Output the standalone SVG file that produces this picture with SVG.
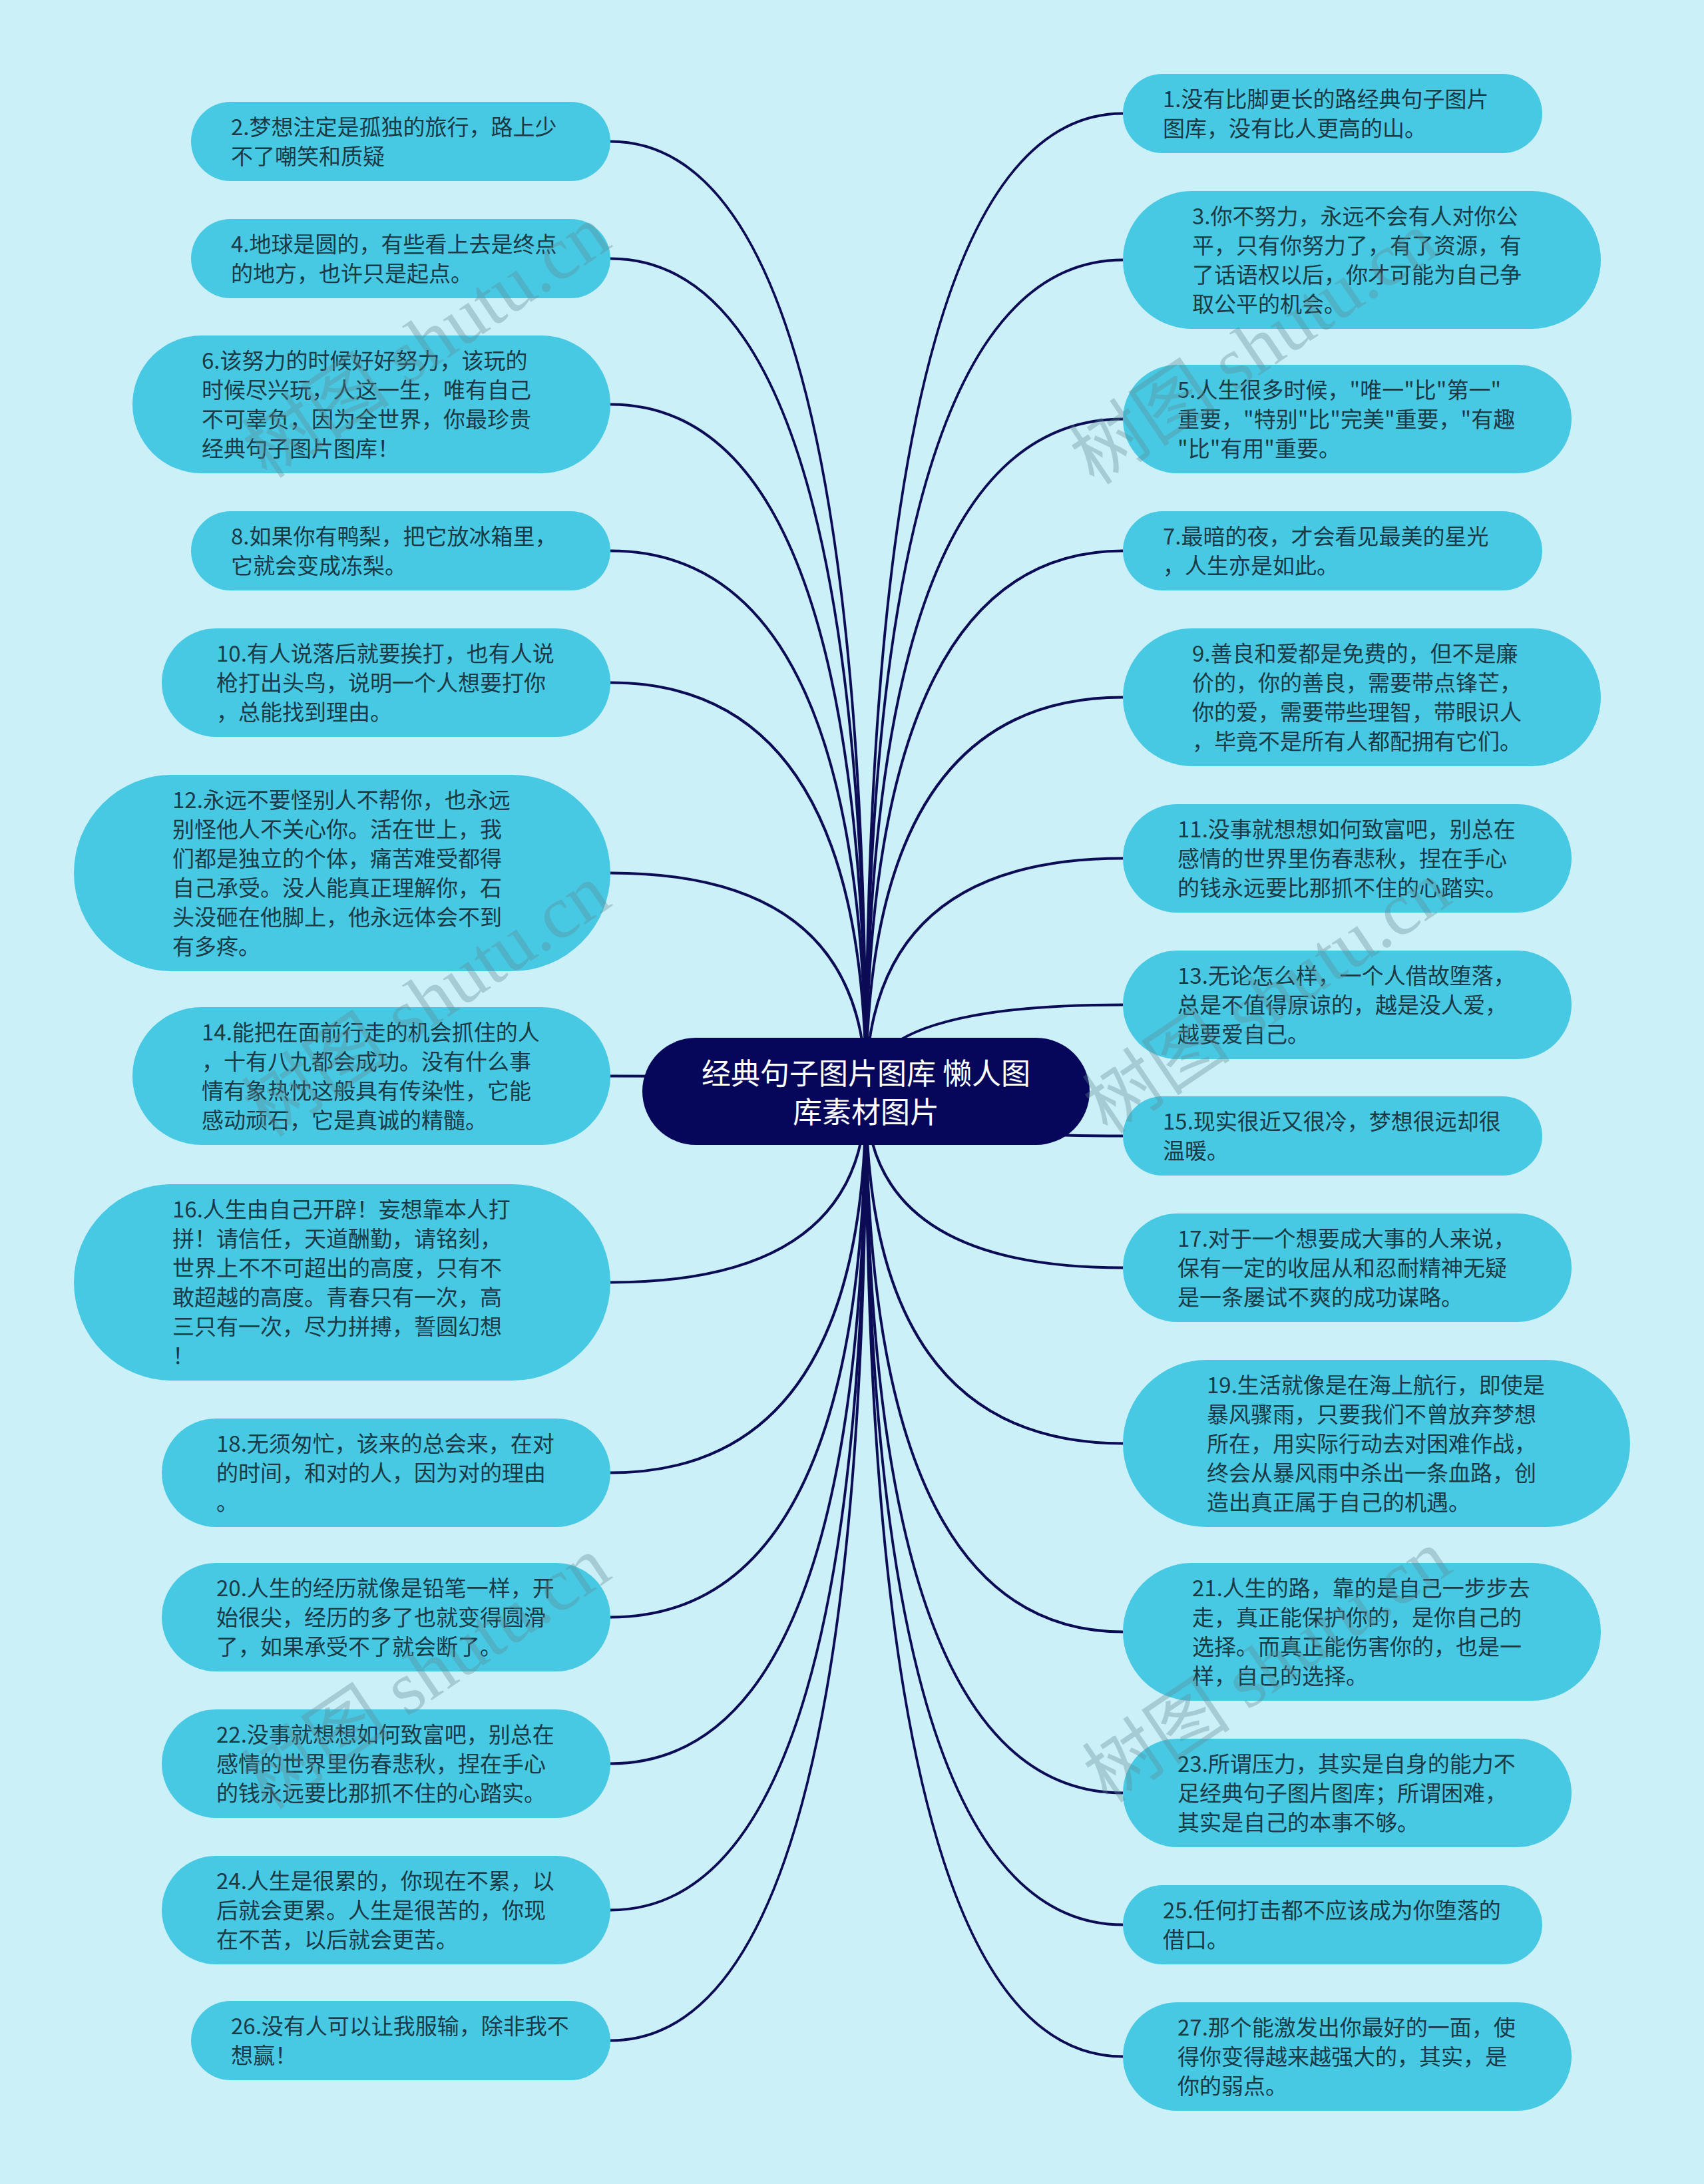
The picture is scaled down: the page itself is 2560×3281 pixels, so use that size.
<svg xmlns="http://www.w3.org/2000/svg" width="2560" height="3281" viewBox="0 0 2560 3281">
<style>
.bg{fill:#cbf0f8}
.node rect{fill:#48c9e3}
.node text{font-family:"Noto Sans CJK SC","Liberation Sans",sans-serif;font-size:33px;fill:#1b3a46}
.center rect{fill:#06075a}
.center text{font-family:"Noto Sans CJK SC","Liberation Sans",sans-serif;font-size:44px;fill:#ffffff;text-anchor:middle}
.links path{fill:none;stroke:#0b0c55;stroke-width:4}
.wm text{font-family:"Liberation Serif","Noto Sans CJK SC",serif;font-size:112px;fill:#5f8893;opacity:0.35;text-anchor:middle}
</style>
<rect class="bg" x="0" y="0" width="2560" height="3281"/>
<g class="links" id="connectors">
<path d="M1301 1640 Q1301 212.5 917 212.5"/>
<path d="M1301 1640 Q1301 388.5 917 388.5"/>
<path d="M1301 1640 Q1301 607.5 917 607.5"/>
<path d="M1301 1640 Q1301 827.5 917 827.5"/>
<path d="M1301 1640 Q1301 1025.5 917 1025.5"/>
<path d="M1301 1640 Q1301 1311.5 917 1311.5"/>
<path d="M1301 1640 Q1301 1616.5 917 1616.5"/>
<path d="M1301 1640 Q1301 1926.5 917 1926.5"/>
<path d="M1301 1640 Q1301 2212.5 917 2212.5"/>
<path d="M1301 1640 Q1301 2429.5 917 2429.5"/>
<path d="M1301 1640 Q1301 2649.5 917 2649.5"/>
<path d="M1301 1640 Q1301 2869.5 917 2869.5"/>
<path d="M1301 1640 Q1301 3065.5 917 3065.5"/>
<path d="M1301 1640 Q1301 170.5 1687 170.5"/>
<path d="M1301 1640 Q1301 390.5 1687 390.5"/>
<path d="M1301 1640 Q1301 629.5 1687 629.5"/>
<path d="M1301 1640 Q1301 827.5 1687 827.5"/>
<path d="M1301 1640 Q1301 1047.5 1687 1047.5"/>
<path d="M1301 1640 Q1301 1289.5 1687 1289.5"/>
<path d="M1301 1640 Q1301 1509.5 1687 1509.5"/>
<path d="M1301 1640 Q1301 1706.5 1687 1706.5"/>
<path d="M1301 1640 Q1301 1904.5 1687 1904.5"/>
<path d="M1301 1640 Q1301 2168.5 1687 2168.5"/>
<path d="M1301 1640 Q1301 2451.5 1687 2451.5"/>
<path d="M1301 1640 Q1301 2693.5 1687 2693.5"/>
<path d="M1301 1640 Q1301 2891.5 1687 2891.5"/>
<path d="M1301 1640 Q1301 3089.5 1687 3089.5"/>
</g>
<g class="center" id="root">
<rect x="965" y="1559" width="672" height="161" rx="80.5"/>
<text><tspan x="1301" y="1629">经典句子图片图库 懒人图</tspan><tspan x="1301" y="1687">库素材图片</tspan></text>
</g>
<g class="node" id="n2"><rect x="287" y="153" width="630" height="119" rx="59.5"/><text><tspan x="347" y="202.5">2.梦想注定是孤独的旅行，路上少</tspan><tspan x="347" y="246.5">不了嘲笑和质疑</tspan></text></g>
<g class="node" id="n4"><rect x="287" y="329" width="630" height="119" rx="59.5"/><text><tspan x="347" y="378.5">4.地球是圆的，有些看上去是终点</tspan><tspan x="347" y="422.5">的地方，也许只是起点。</tspan></text></g>
<g class="node" id="n6"><rect x="199" y="504" width="718" height="207" rx="103.5"/><text><tspan x="303" y="553.5">6.该努力的时候好好努力，该玩的</tspan><tspan x="303" y="597.5">时候尽兴玩，人这一生，唯有自己</tspan><tspan x="303" y="641.5">不可辜负，因为全世界，你最珍贵</tspan><tspan x="303" y="685.5">经典句子图片图库！</tspan></text></g>
<g class="node" id="n8"><rect x="287" y="768" width="630" height="119" rx="59.5"/><text><tspan x="347" y="817.5">8.如果你有鸭梨，把它放冰箱里，</tspan><tspan x="347" y="861.5">它就会变成冻梨。</tspan></text></g>
<g class="node" id="n10"><rect x="243" y="944" width="674" height="163" rx="81.5"/><text><tspan x="325" y="993.5">10.有人说落后就要挨打，也有人说</tspan><tspan x="325" y="1037.5">枪打出头鸟，说明一个人想要打你</tspan><tspan x="325" y="1081.5">，总能找到理由。</tspan></text></g>
<g class="node" id="n12"><rect x="111" y="1164" width="806" height="295" rx="147.5"/><text><tspan x="259" y="1213.5">12.永远不要怪别人不帮你，也永远</tspan><tspan x="259" y="1257.5">别怪他人不关心你。活在世上，我</tspan><tspan x="259" y="1301.5">们都是独立的个体，痛苦难受都得</tspan><tspan x="259" y="1345.5">自己承受。没人能真正理解你，石</tspan><tspan x="259" y="1389.5">头没砸在他脚上，他永远体会不到</tspan><tspan x="259" y="1433.5">有多疼。</tspan></text></g>
<g class="node" id="n14"><rect x="199" y="1513" width="718" height="207" rx="103.5"/><text><tspan x="303" y="1562.5">14.能把在面前行走的机会抓住的人</tspan><tspan x="303" y="1606.5">，十有八九都会成功。没有什么事</tspan><tspan x="303" y="1650.5">情有象热忱这般具有传染性，它能</tspan><tspan x="303" y="1694.5">感动顽石，它是真诚的精髓。</tspan></text></g>
<g class="node" id="n16"><rect x="111" y="1779" width="806" height="295" rx="147.5"/><text><tspan x="259" y="1828.5">16.人生由自己开辟！妄想靠本人打</tspan><tspan x="259" y="1872.5">拼！请信任，天道酬勤，请铭刻，</tspan><tspan x="259" y="1916.5">世界上不不可超出的高度，只有不</tspan><tspan x="259" y="1960.5">敢超越的高度。青春只有一次，高</tspan><tspan x="259" y="2004.5">三只有一次，尽力拼搏，誓圆幻想</tspan><tspan x="259" y="2048.5">！</tspan></text></g>
<g class="node" id="n18"><rect x="243" y="2131" width="674" height="163" rx="81.5"/><text><tspan x="325" y="2180.5">18.无须匆忙，该来的总会来，在对</tspan><tspan x="325" y="2224.5">的时间，和对的人，因为对的理由</tspan><tspan x="325" y="2268.5">。</tspan></text></g>
<g class="node" id="n20"><rect x="243" y="2348" width="674" height="163" rx="81.5"/><text><tspan x="325" y="2397.5">20.人生的经历就像是铅笔一样，开</tspan><tspan x="325" y="2441.5">始很尖，经历的多了也就变得圆滑</tspan><tspan x="325" y="2485.5">了，如果承受不了就会断了。</tspan></text></g>
<g class="node" id="n22"><rect x="243" y="2568" width="674" height="163" rx="81.5"/><text><tspan x="325" y="2617.5">22.没事就想想如何致富吧，别总在</tspan><tspan x="325" y="2661.5">感情的世界里伤春悲秋，捏在手心</tspan><tspan x="325" y="2705.5">的钱永远要比那抓不住的心踏实。</tspan></text></g>
<g class="node" id="n24"><rect x="243" y="2788" width="674" height="163" rx="81.5"/><text><tspan x="325" y="2837.5">24.人生是很累的，你现在不累，以</tspan><tspan x="325" y="2881.5">后就会更累。人生是很苦的，你现</tspan><tspan x="325" y="2925.5">在不苦，以后就会更苦。</tspan></text></g>
<g class="node" id="n26"><rect x="287" y="3006" width="630" height="119" rx="59.5"/><text><tspan x="347" y="3055.5">26.没有人可以让我服输，除非我不</tspan><tspan x="347" y="3099.5">想赢！</tspan></text></g>
<g class="node" id="n1"><rect x="1687" y="111" width="630" height="119" rx="59.5"/><text><tspan x="1747" y="160.5">1.没有比脚更长的路经典句子图片</tspan><tspan x="1747" y="204.5">图库，没有比人更高的山。</tspan></text></g>
<g class="node" id="n3"><rect x="1687" y="287" width="718" height="207" rx="103.5"/><text><tspan x="1791" y="336.5">3.你不努力，永远不会有人对你公</tspan><tspan x="1791" y="380.5">平，只有你努力了，有了资源，有</tspan><tspan x="1791" y="424.5">了话语权以后，你才可能为自己争</tspan><tspan x="1791" y="468.5">取公平的机会。</tspan></text></g>
<g class="node" id="n5"><rect x="1687" y="548" width="674" height="163" rx="81.5"/><text><tspan x="1769" y="597.5">5.人生很多时候，"唯一"比"第一"</tspan><tspan x="1769" y="641.5">重要，"特别"比"完美"重要，"有趣</tspan><tspan x="1769" y="685.5">"比"有用"重要。</tspan></text></g>
<g class="node" id="n7"><rect x="1687" y="768" width="630" height="119" rx="59.5"/><text><tspan x="1747" y="817.5">7.最暗的夜，才会看见最美的星光</tspan><tspan x="1747" y="861.5">，人生亦是如此。</tspan></text></g>
<g class="node" id="n9"><rect x="1687" y="944" width="718" height="207" rx="103.5"/><text><tspan x="1791" y="993.5">9.善良和爱都是免费的，但不是廉</tspan><tspan x="1791" y="1037.5">价的，你的善良，需要带点锋芒，</tspan><tspan x="1791" y="1081.5">你的爱，需要带些理智，带眼识人</tspan><tspan x="1791" y="1125.5">，毕竟不是所有人都配拥有它们。</tspan></text></g>
<g class="node" id="n11"><rect x="1687" y="1208" width="674" height="163" rx="81.5"/><text><tspan x="1769" y="1257.5">11.没事就想想如何致富吧，别总在</tspan><tspan x="1769" y="1301.5">感情的世界里伤春悲秋，捏在手心</tspan><tspan x="1769" y="1345.5">的钱永远要比那抓不住的心踏实。</tspan></text></g>
<g class="node" id="n13"><rect x="1687" y="1428" width="674" height="163" rx="81.5"/><text><tspan x="1769" y="1477.5">13.无论怎么样，一个人借故堕落，</tspan><tspan x="1769" y="1521.5">总是不值得原谅的，越是没人爱，</tspan><tspan x="1769" y="1565.5">越要爱自己。</tspan></text></g>
<g class="node" id="n15"><rect x="1687" y="1647" width="630" height="119" rx="59.5"/><text><tspan x="1747" y="1696.5">15.现实很近又很冷，梦想很远却很</tspan><tspan x="1747" y="1740.5">温暖。</tspan></text></g>
<g class="node" id="n17"><rect x="1687" y="1823" width="674" height="163" rx="81.5"/><text><tspan x="1769" y="1872.5">17.对于一个想要成大事的人来说，</tspan><tspan x="1769" y="1916.5">保有一定的收屈从和忍耐精神无疑</tspan><tspan x="1769" y="1960.5">是一条屡试不爽的成功谋略。</tspan></text></g>
<g class="node" id="n19"><rect x="1687" y="2043" width="762" height="251" rx="125.5"/><text><tspan x="1813" y="2092.5">19.生活就像是在海上航行，即使是</tspan><tspan x="1813" y="2136.5">暴风骤雨，只要我们不曾放弃梦想</tspan><tspan x="1813" y="2180.5">所在，用实际行动去对困难作战，</tspan><tspan x="1813" y="2224.5">终会从暴风雨中杀出一条血路，创</tspan><tspan x="1813" y="2268.5">造出真正属于自己的机遇。</tspan></text></g>
<g class="node" id="n21"><rect x="1687" y="2348" width="718" height="207" rx="103.5"/><text><tspan x="1791" y="2397.5">21.人生的路，靠的是自己一步步去</tspan><tspan x="1791" y="2441.5">走，真正能保护你的，是你自己的</tspan><tspan x="1791" y="2485.5">选择。而真正能伤害你的，也是一</tspan><tspan x="1791" y="2529.5">样，自己的选择。</tspan></text></g>
<g class="node" id="n23"><rect x="1687" y="2612" width="674" height="163" rx="81.5"/><text><tspan x="1769" y="2661.5">23.所谓压力，其实是自身的能力不</tspan><tspan x="1769" y="2705.5">足经典句子图片图库；所谓困难，</tspan><tspan x="1769" y="2749.5">其实是自己的本事不够。</tspan></text></g>
<g class="node" id="n25"><rect x="1687" y="2832" width="630" height="119" rx="59.5"/><text><tspan x="1747" y="2881.5">25.任何打击都不应该成为你堕落的</tspan><tspan x="1747" y="2925.5">借口。</tspan></text></g>
<g class="node" id="n27"><rect x="1687" y="3008" width="674" height="163" rx="81.5"/><text><tspan x="1769" y="3057.5">27.那个能激发出你最好的一面，使</tspan><tspan x="1769" y="3101.5">得你变得越来越强大的，其实，是</tspan><tspan x="1769" y="3145.5">你的弱点。</tspan></text></g>
<g class="wm" id="watermark">
<text transform="translate(662 545) rotate(-34)">树图 shutu.cn</text>
<text transform="translate(662 1535) rotate(-34)">树图 shutu.cn</text>
<text transform="translate(662 2545) rotate(-34)">树图 shutu.cn</text>
<text transform="translate(1905 555) rotate(-34)">树图 shutu.cn</text>
<text transform="translate(1925 1530) rotate(-34)">树图 shutu.cn</text>
<text transform="translate(1925 2535) rotate(-34)">树图 shutu.cn</text>
</g>
</svg>
